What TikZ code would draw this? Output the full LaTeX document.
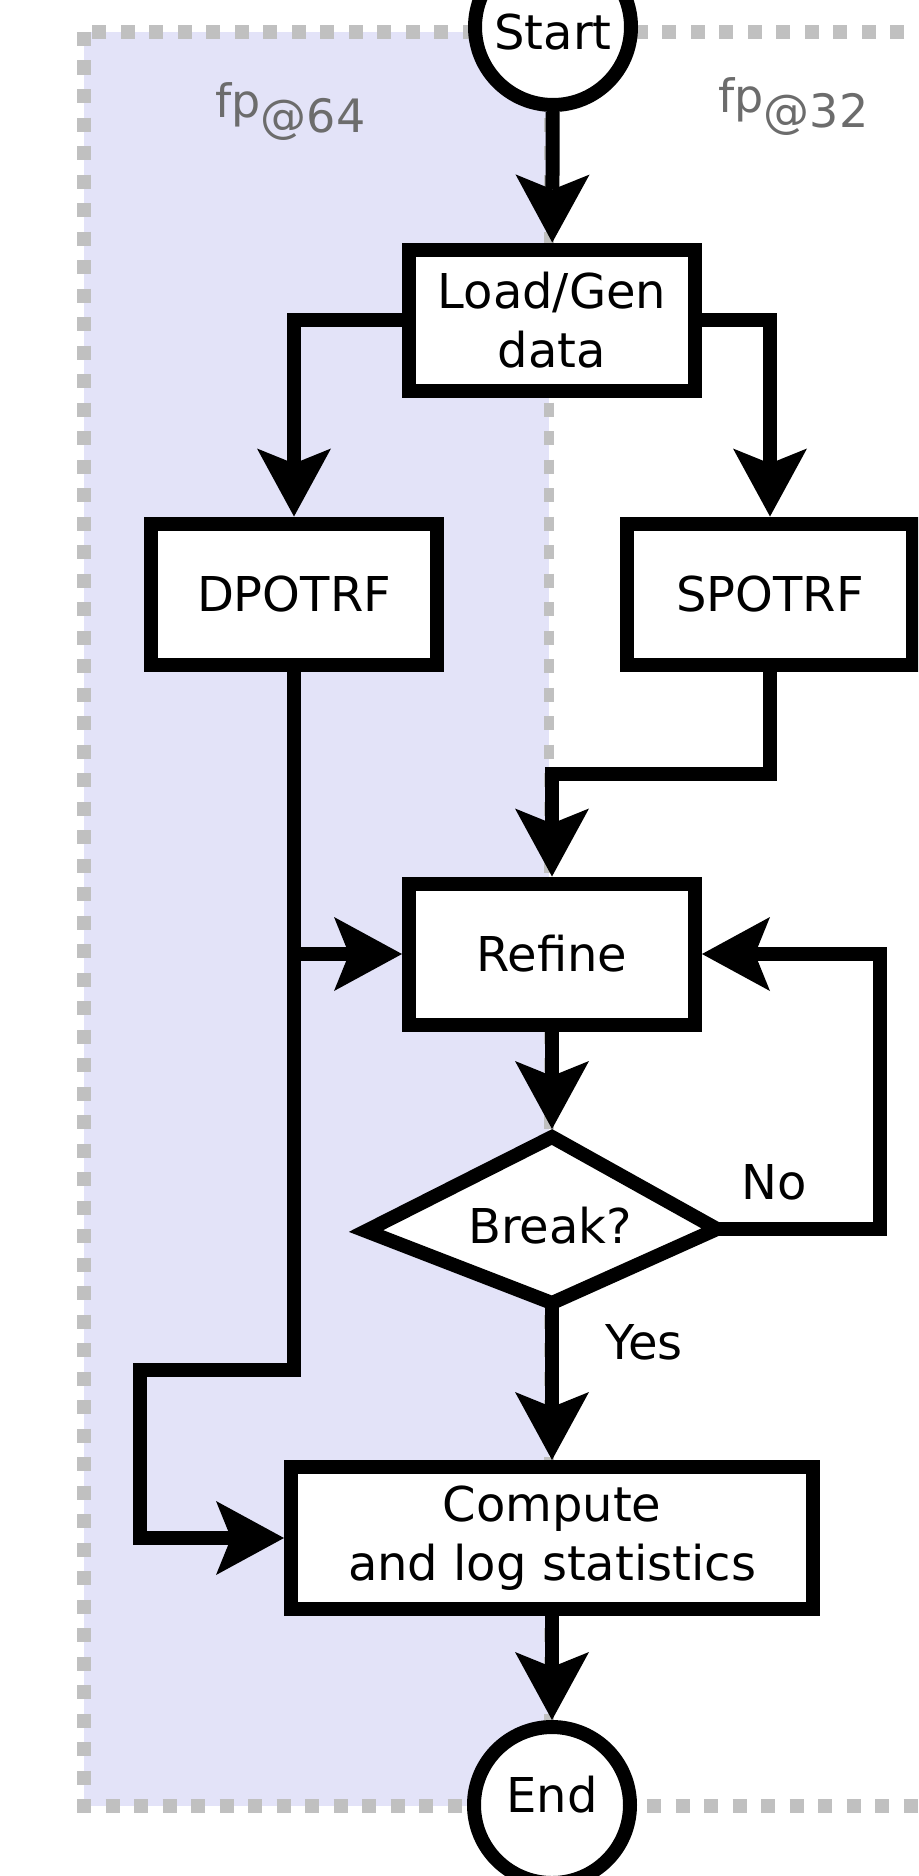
\documentclass[tikz,border=0pt]{standalone}
\usepackage{fontspec}
\setmainfont{DejaVu Sans}
\usetikzlibrary{arrows.meta}
\definecolor{laneblue}{RGB}{227,227,248}
\definecolor{lanegray}{RGB}{192,192,192}
\definecolor{labelgray}{RGB}{108,108,108}
\begin{document}
\begin{tikzpicture}[x=1pt,y=-1pt,
  every node/.style={font=\fontsize{48pt}{59pt}\selectfont},
  box/.style={draw, line width=14pt, fill=white, minimum width=286pt,
    minimum height=141pt, inner sep=0pt, align=center},
  term/.style={draw, circle, line width=14pt, fill=white, minimum size=156pt, inner sep=0pt},
  decisionline/.style={draw, line width=14pt, fill=white, line join=miter},
  flow/.style={line width=14pt,
    -{Stealth[length=68pt,width=74pt,inset=15pt,line width=0pt]}},
  lane/.style={draw=lanegray, line width=14pt, dash pattern=on 14pt off 14.5pt},
  divider/.style={draw=lanegray, line width=10pt, dash pattern=on 14pt off 14.5pt},
  lanelabel/.style={text=labelgray, anchor=base west, font=\fontsize{46pt}{55pt}\selectfont}
]
\useasboundingbox (0,0) rectangle (918,1876);
\clip (0,0) rectangle (918,1876);

% precision lanes
\fill[laneblue] (84,32) rectangle (549,1806);
\draw[lane] (84,32) rectangle (1000,1806);
\draw[divider] (549,32) -- (549,1806);
\node[lanelabel] (lbl64) at (212,117) {fp\raisebox{-15pt}{@64}};
\node[lanelabel] (lbl32) at (715,112) {fp\raisebox{-15pt}{@32}};

% steps
\node[term, text height=45pt, text depth=0pt] (start) at (553,27) {Start};
\node[box] (load) at (552,320) {Load/Gen\\data};
\node[box] (dpotrf) at (294,594) {DPOTRF};
\node[box] (spotrf) at (770,594) {SPOTRF};
\node[box] (refine) at (552,954) {Refine};

% decision: a lopsided diamond, wider to the left, side corners set low
\coordinate (btop) at (552,1129);
\coordinate (bbot) at (552,1303);
\coordinate (bright) at (717,1229);
\draw[decisionline] (552,1137) -- (bright) -- (bbot) -- (366,1231) -- cycle;
\node (brk) at (550,1226) {Break?};

\node[box, minimum width=522pt, minimum height=142pt] (compute) at (552,1538) {Compute\\and log statistics};
\node[term, text height=35pt, text depth=20pt] (end) at (552,1805) {End};

% bend points
\coordinate (rjoin) at (552,774);
\coordinate (dturn) at (140,1370);
\coordinate (noturn) at (880,1229);

% connectors
\draw[flow] (start) -- (load);
\draw[flow] (load.west) -| (dpotrf.north);
\draw[flow] (load.east) -| (spotrf.north);
\draw[flow] (spotrf.south) |- (rjoin) -- (refine.north);
\draw[flow] (dpotrf.south) |- (refine.west);
\draw[flow] (dpotrf.south) |- (dturn) |- (compute.west);
\draw[flow] (refine.south) -- (btop);
\draw[flow] (bright) -- (noturn) |- (refine.east);
\draw[flow] (bbot) -- (compute.north);
\draw[flow] (compute) -- (end);

\node (no) at (774,1182) {No};
\node (yes) at (644,1342) {Yes};
\end{tikzpicture}
\end{document}
